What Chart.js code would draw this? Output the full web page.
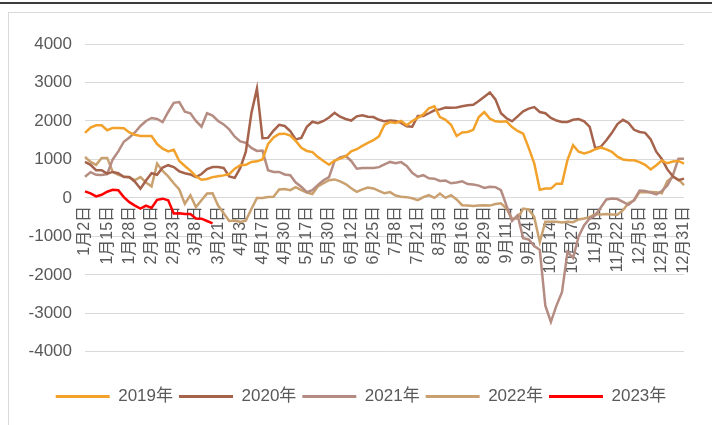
<!DOCTYPE html>
<html>
<head>
<meta charset="utf-8">
<script src="https://cdn.jsdelivr.net/npm/chart.js@4.4.0/dist/chart.umd.min.js"></script>
<style>
    html, body { margin: 0; padding: 0; background: #fff; }
    body { width: 712px; height: 425px; position: relative; overflow: hidden; }
    #top_rule { position: absolute; left: 0; top: 2px; width: 712px; height: 2px; background: #3c3c3c; }
    #frame { position: absolute; left: 8px; top: 12px; width: 720px; height: 430px; border-left: 1px solid #d9d9d9; border-top: 1px solid #d9d9d9; }
    canvas { position: absolute; left: 0; top: 0; }
</style>
</head>
<body>
<div id="top_rule"></div>
<div id="frame"></div>
<canvas id="spread_chart" width="712" height="425"></canvas>
<script>
// tick labels on the category axis, one every STEP points
const tickDates = ['1月2日', '1月15日', '1月28日', '2月10日', '2月23日', '3月8日', '3月21日',
    '4月3日', '4月17日', '4月30日', '5月17日', '5月30日', '6月12日', '6月25日',
    '7月8日', '7月21日', '8月3日', '8月16日', '8月29日', '9月11日', '9月24日',
    '10月14日', '10月27日', '11月9日', '11月22日', '12月5日', '12月18日', '12月31日'];
const STEP = 4;

const years = ['2019年', '2020年', '2021年', '2022年', '2023年'];

const v2019 = [1688, 1830, 1888, 1888, 1758, 1818, 1818, 1810, 1700, 1640,
    1610, 1610, 1610, 1400, 1280, 1210, 1250, 960, 830, 710,
    560, 470, 490, 540, 565, 585, 620, 760, 850, 860,
    935, 950, 1000, 1400, 1570, 1660, 1670, 1620, 1480, 1300,
    1220, 1190, 1060, 960, 860, 970, 1020, 1080, 1210, 1265,
    1350, 1430, 1500, 1600, 1900, 1970, 1950, 2000, 1890, 2000,
    2080, 2170, 2330, 2380, 2100, 2030, 1900, 1610, 1700, 1714,
    1770, 2100, 2230, 2060, 1990, 1980, 1990, 1840, 1740, 1670,
    1300, 900, 210, 242, 242, 371, 371, 990, 1368, 1200,
    1155, 1195, 1265, 1310, 1260, 1200, 1070, 1000, 979, 979,
    930, 860, 740, 849, 970, 900, 945, 960, 890];

const v2020 = [935, 860, 719, 719, 631, 675, 640, 545, 545, 420,
    240, 450, 640, 600, 790, 850, 800, 690, 640, 610,
    540, 620, 750, 800, 800, 780, 560, 520, 780, 1200,
    2200, 2840, 1550, 1560, 1750, 1900, 1870, 1740, 1520, 1560,
    1850, 1980, 1940, 2000, 2090, 2210, 2110, 2050, 2010, 2120,
    2150, 2110, 2100, 2030, 1990, 2010, 2000, 1950, 1860, 1850,
    2130, 2130, 2200, 2277, 2300, 2350, 2340, 2350, 2380, 2407,
    2420, 2520, 2630, 2740, 2560, 2200, 2070, 1990, 2120, 2250,
    2320, 2360, 2233, 2200, 2080, 2010, 1974, 1974, 2030, 2050,
    1990, 1844, 1290, 1330, 1500, 1690, 1920, 2030, 1950, 1770,
    1714, 1690, 1520, 1200, 1010, 740, 560, 460, 500];

const v2021 = [550, 670, 600, 595, 620, 1000, 1210, 1460, 1570, 1700,
    1870, 2000, 2078, 2050, 1970, 2233, 2470, 2490, 2240, 2200,
    2000, 1850, 2200, 2140, 2000, 1910, 1780, 1590, 1470, 1430,
    1300, 1220, 1230, 720, 675, 675, 610, 590, 400, 290,
    150, 200, 340, 460, 540, 960, 1050, 1090, 960, 761,
    780, 780, 780, 800, 870, 935, 900, 930, 830, 650,
    550, 590, 510, 500, 440, 450, 380, 400, 430, 360,
    350, 320, 260, 290, 280, 200, -200, -600, -450, -1050,
    -1080, -1250, -1350, -2800, -3220, -2800, -2450, -1400, -1560, -1000,
    -710, -537, -450, -250, -40, -18, -30, -104, -180, -50,
    190, 180, 140, 90, 180, 320, 590, 1020, 1020];

const v2022 = [1065, 935, 860, 1040, 1040, 675, 600, 560, 530, 460,
    540, 400, 300, 891, 700, 560, 380, 220, -150, 70,
    -240, -60, 112, 120, -200, -400, -600, -590, -623, -590,
    -290, 0, 0, 26, 30, 220, 230, 200, 280, 200,
    140, 100, 300, 380, 460, 480, 430, 360, 250, 156,
    220, 270, 245, 180, 120, 150, 60, 30, 20, -10,
    -60, 20, 70, 0, 112, 0, 70, -40, -190, -200,
    -208, -200, -190, -200, -160, -140, -277, -540, -537, -277,
    -300, -500, -1150, -620, -623, -623, -640, -620, -630, -560,
    -537, -500, -420, -430, -420, -430, -440, -320, -130, -70,
    156, 150, 156, 150, 120, 440, 545, 480, 330];

const v2023 = [170, 120, 40, 80, 160, 210, 200, 20, -110, -200,
    -280, -200, -260, -50, -20, -60, -407, -400, -420, -420,
    -537, -540, -600, -660];

const colors = ['#f2a12b', '#a6634c', '#b58c82', '#c9a06f', '#ff0000'];

const pointCount = (tickDates.length - 1) * STEP + 1;
const labels = Array.from({ length: pointCount }, (_, i) => (i % STEP === 0 ? tickDates[i / STEP] : ''));

const series = [v2019, v2020, v2021, v2022, v2023];
const FONT = "'Liberation Sans', 'Noto Sans CJK SC', sans-serif";
const TEXT = '#595959';

Chart.defaults.font.family = FONT;
Chart.defaults.color = TEXT;

// the legend row sits a little right of the canvas centre
const legendShift = {
    id: 'legendShift',
    afterLayout(chart) {
        chart.legend.left += 19;
        chart.legend.right += 19;
    }
};

const ctx = document.getElementById('spread_chart').getContext('2d');

new Chart(ctx, {
    type: 'line',
    data: {
        labels: labels,
        datasets: series.map((vals, k) => ({
            label: years[k],
            data: vals,
            borderColor: colors[k],
            backgroundColor: colors[k],
            borderWidth: 2.5,
            pointRadius: 0,
            tension: 0,
            fill: false,
        }))
    },
    options: {
        responsive: false,
        animation: false,
        devicePixelRatio: 1,
        layout: {
            padding: { left: 0, right: 28, top: 44, bottom: 10 }
        },
        scales: {
            x: {
                position: { y: 0 },
                grid: { display: false, drawTicks: false },
                border: { display: false },
                ticks: {
                    autoSkip: false,
                    minRotation: 90,
                    maxRotation: 90,
                    padding: 8,
                    font: { size: 16 },
                    color: TEXT,
                    callback: (val, i) => labels[i]
                }
            },
            y: {
                min: -4000,
                max: 4000,
                afterFit: (scale) => { scale.width = 85; },
                grid: { color: '#d9d9d9', lineWidth: 1, drawTicks: false },
                border: { display: false },
                ticks: {
                    stepSize: 1000,
                    padding: 13,
                    font: { size: 17 },
                    color: TEXT,
                    callback: (v) => String(v)
                }
            }
        },
        plugins: {
            tooltip: { enabled: false },
            legend: {
                position: 'bottom',
                title: { display: true, text: ' ', font: { size: 1 }, padding: { top: 29, bottom: 0 } },
                labels: {
                    boxWidth: 54,
                    boxHeight: 3,
                    padding: 6,
                    font: { size: 17 },
                    color: TEXT,
                    generateLabels: (chart) => Chart.defaults.plugins.legend.labels.generateLabels(chart)
                        .map((item) => ({ ...item, lineWidth: 0 }))
                }
            }
        }
    },
    plugins: [legendShift]
});
</script>
</body>
</html>
